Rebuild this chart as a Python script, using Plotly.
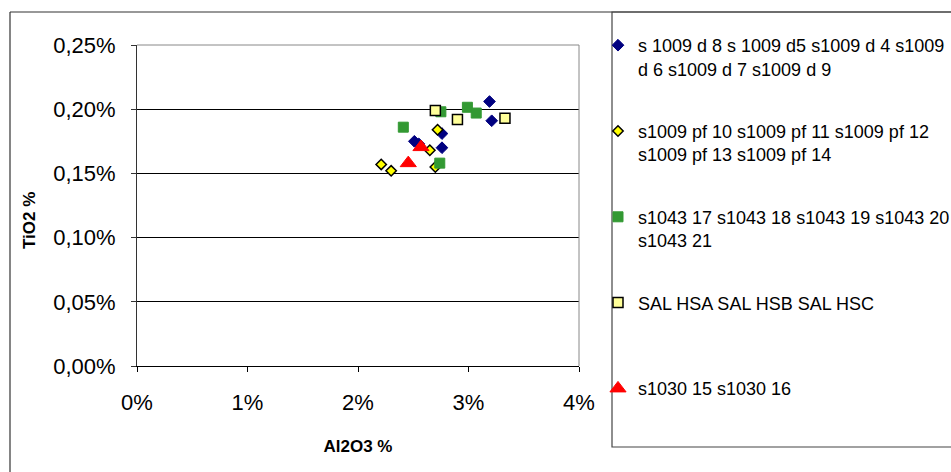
import plotly.graph_objects as go

# Figure and plot-area geometry (pixels)
W, H = 951, 472
PLOT_L, PLOT_R, PLOT_T, PLOT_B = 137, 579, 45, 366


def px(x):
    return (x - PLOT_L) / (PLOT_R - PLOT_L)


def py(y):
    return (PLOT_B - y) / (PLOT_B - PLOT_T)


# Al2O3 % / TiO2 % per sample group
d_name = "s 1009 d 8 s 1009 d5 s1009 d 4 s1009<br>d 6 s1009 d 7 s1009 d 9"
d_al2o3 = [3.19, 3.21, 2.51, 2.55, 2.76, 2.76]
d_tio2 = [0.206, 0.191, 0.175, 0.173, 0.181, 0.170]

pf_name = "s1009 pf 10 s1009 pf 11 s1009 pf 12<br>s1009 pf 13 s1009 pf 14"
pf_al2o3 = [2.72, 2.65, 2.21, 2.30, 2.70]
pf_tio2 = [0.184, 0.168, 0.157, 0.152, 0.155]

s1043_name = "s1043 17 s1043 18 s1043 19 s1043 20<br>s1043 21"
s1043_al2o3 = [2.41, 2.75, 2.99, 3.07, 2.74]
s1043_tio2 = [0.186, 0.198, 0.2015, 0.197, 0.158]

sal_name = "SAL HSA SAL HSB SAL HSC<br> "
sal_al2o3 = [2.70, 2.90, 3.33]
sal_tio2 = [0.199, 0.192, 0.193]

s1030_name = "s1030 15 s1030 16<br> "
s1030_al2o3 = [2.57, 2.455]
s1030_tio2 = [0.1705, 0.158]

x_ticks = [0, 1, 2, 3, 4]
x_labels = ["0%", "1%", "2%", "3%", "4%"]
y_ticks = [0, 0.05, 0.10, 0.15, 0.20, 0.25]
y_labels = ["0,00%", "0,05%", "0,10%", "0,15%", "0,20%", "0,25%"]

FONT = "Liberation Sans, Arial, sans-serif"

series = [
    (d_name, d_al2o3, d_tio2, dict(symbol="diamond", size=9, color="#000080",
                                   line=dict(color="#000080", width=1))),
    (pf_name, pf_al2o3, pf_tio2, dict(symbol="diamond", size=8, color="#FFFF00",
                                      line=dict(color="#000000", width=1.5))),
    (s1043_name, s1043_al2o3, s1043_tio2, dict(symbol="square", size=10, color="#339933",
                                               line=dict(color="#339933", width=1))),
    (sal_name, sal_al2o3, sal_tio2, dict(symbol="square", size=10, color="#FFFF99",
                                         line=dict(color="#000000", width=1.5))),
    (s1030_name, s1030_al2o3, s1030_tio2, dict(symbol="triangle-up", size=14, color="#FF0000",
                                               line=dict(color="#FF0000", width=1))),
]

fig = go.Figure()
for i, (name, xs, ys, marker) in enumerate(series):
    fig.add_trace(go.Scatter(x=xs, y=ys, mode="markers", name=name,
                             legendgroup=f"g{i}", marker=marker))

shapes = [
    # chart outline (top and left edges visible)
    dict(type="line", xref="paper", yref="paper", x0=px(10), y0=py(12), x1=px(W + 5), y1=py(12),
         line=dict(color="#333333", width=1.2)),
    dict(type="line", xref="paper", yref="paper", x0=px(10), y0=py(12), x1=px(10), y1=py(H + 5),
         line=dict(color="#333333", width=1.2)),
    # legend frame
    dict(type="rect", xref="paper", yref="paper", x0=px(612), y0=py(12), x1=px(W + 10), y1=py(447),
         line=dict(color="#444444", width=1.2)),
    # plot-area frame, top and right
    dict(type="line", xref="paper", yref="paper", x0=0, y0=1, x1=1, y1=1,
         line=dict(color="#888888", width=1), layer="above"),
    dict(type="line", xref="paper", yref="paper", x0=1, y0=0, x1=1, y1=1,
         line=dict(color="#888888", width=1), layer="above"),
]

fig.update_layout(
    width=W, height=H,
    margin=dict(l=PLOT_L, r=W - PLOT_R, t=PLOT_T, b=H - PLOT_B, pad=0, autoexpand=False),
    paper_bgcolor="white", plot_bgcolor="white",
    font=dict(family=FONT, color="black"),
    shapes=shapes,
    showlegend=True,
    legend=dict(x=px(598), y=py(27), xanchor="left", yanchor="top",
                font=dict(size=18, family=FONT, color="black"),
                bgcolor="rgba(0,0,0,0)", borderwidth=0, maxheight=460,
                valign="top", tracegroupgap=36, itemwidth=30),
    annotations=[
        dict(text="<b>TiO2 %</b>", xref="paper", yref="paper", x=px(29), y=py(221),
             xanchor="center", yanchor="middle", textangle=-90, showarrow=False,
             font=dict(size=17, family=FONT, color="black")),
    ],
)

fig.update_xaxes(
    range=[0, 4], tickmode="array", tickvals=x_ticks, ticktext=x_labels,
    showgrid=False, zeroline=False,
    showline=True, linecolor="#000000", linewidth=1,
    ticks="outside", ticklen=5, tickcolor="#000000",
    tickfont=dict(size=22, family=FONT, color="black"), ticklabelstandoff=12,
    title=dict(text="<b>Al2O3 %</b>", font=dict(size=17, family=FONT, color="black"), standoff=25),
)
fig.update_yaxes(
    range=[0, 0.25], tickmode="array", tickvals=y_ticks, ticktext=y_labels,
    showgrid=True, gridcolor="#000000", gridwidth=1, zeroline=False,
    showline=True, linecolor="#333333", linewidth=1,
    ticks="outside", ticklen=5, tickcolor="#333333",
    tickfont=dict(size=22, family=FONT, color="black"), ticklabelstandoff=11,
)

fig.write_html("out.html")
